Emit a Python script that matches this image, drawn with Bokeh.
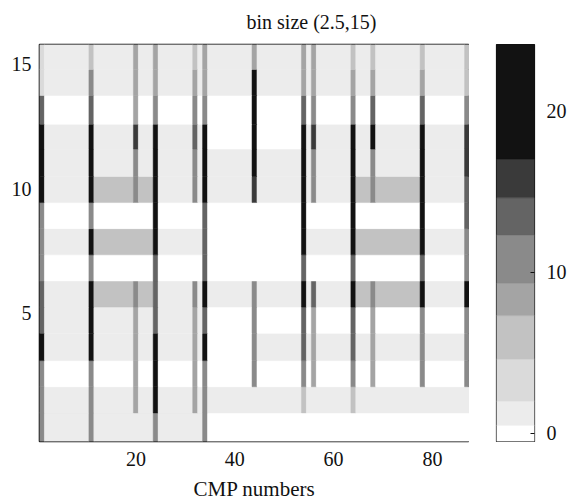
from bokeh.plotting import figure
from bokeh.layouts import row
from bokeh.models import LinearColorMapper, FixedTicker, Range1d, ColumnDataSource
from bokeh.transform import transform
from bokeh.embed import file_html
from bokeh.resources import INLINE

# ---------------- data ----------------
cmp_numbers = list(range(1, 88))
# row (bin) edges on the vertical axis, bottom -> top
row_edges = [-0.15, 1.0, 2.05, 3.1, 4.2, 5.25, 6.3, 7.35, 8.4, 9.45, 10.5, 11.6, 12.6, 13.75, 14.8, 15.8]

# background values per region, rows bottom -> top
bg_AC = [1.2, 1.2, 0, 1.2, 1.2, 1.2, 0, 1.2, 0, 1.2, 1.2, 1.2, 0, 1.2, 1.2]
bg_B  = [1.2, 1.2, 0, 1.2, 1.2, 5.8, 0, 5.8, 0, 5.8, 1.2, 1.2, 0, 1.2, 1.2]
bg_D1 = [0, 1.2, 0, 0, 0, 1.2, 0, 0, 0, 1.2, 1.2, 0, 0, 1.2, 1.2]
bg_D2 = [0, 1.2, 0, 1.2, 0, 1.2, 0, 0, 0, 1.2, 1.2, 0, 0, 1.2, 1.2]
bg_EG = [0, 1.2, 0, 1.2, 0, 1.2, 0, 1.2, 0, 1.2, 1.2, 1.2, 0, 1.2, 1.2]
bg_F  = [0, 1.2, 0, 1.2, 0, 5.8, 0, 5.8, 0, 5.8, 1.2, 1.2, 0, 1.2, 1.2]

region_start = [1, 11, 25, 35, 45, 55, 64, 78]
region_end   = [10, 24, 34, 44, 54, 63, 77, 87]
region_bg    = [bg_AC, bg_B, bg_AC, bg_D1, bg_D2, bg_EG, bg_F, bg_EG]

# strong single-CMP traces, rows bottom -> top (None = background)
line_cmp = [1, 11, 20, 24, 32, 34, 44, 54, 56, 64, 68, 78, 87]
line_profiles = [
    [12, 12, 12, 20, 13, 13, 12, 12, 12, 20, 20, 20, 13, 3, 3],
    [10, 10, 10, 20, 20, 20, 12, 20, 12, 20, 20, 20, 13, 12, 7],
    [None, 9, 9, 9, 9, 11, None, None, None, 11, 11, 16, 9, 9, 9],
    [12, 18, 18, 20, 14, 14, 13, 20, 20, 20, 20, 20, 12, 8, 8],
    [None, 8, 8, 8, 8, 11, None, None, None, 10, 10, 14, 10, 8, 7],
    [10, 10, 10, 20, 13, 20, 13, 13, 13, 20, 20, 20, 12, 9, 8],
    [None, None, 11, 11, 11, 11, None, None, None, 16, 22, 22, 22, 18, 9],
    [None, 7, 10, 13, 13, 20, 13, 20, 20, 20, 20, 20, 13, 9, 8],
    [None, None, 9, 9, 9, 13, None, None, None, 10, 10, 16, 11, 9, 8],
    [None, 6, 11, 13, 13, 20, 13, 20, 20, 20, 20, 20, 10, 8, 7],
    [None, None, 9, 9, 9, 11, None, None, None, 11, 11, 18, 13, 8, 7],
    [None, None, 12, 12, 12, 20, 13, 20, 20, 20, 20, 20, 14, 9, 5],
    [None, None, 11, 11, 11, 17, 11, 12, 13, 13, 16, 16, 10, 6, 5],
]

title_text = "bin size (2.5,15)"
colorbar_ticks = [0, 10, 20]
x_ticks = [20, 40, 60, 80]
y_ticks = [5, 10, 15]

# colour levels (stepped grey scale)
level_edges = [-0.5, 0.5, 2.0, 4.6, 7.3, 9.3, 12.3, 14.6, 17.0, 24.1]
level_colors = ["#ffffff", "#ececec", "#dadada", "#c2c2c2", "#a4a4a4",
                "#8a8a8a", "#646464", "#3a3a3a", "#121212"]

# ---------------- build grid ----------------
nrows = len(row_edges) - 1
grid = {}
for s, e, bg in zip(region_start, region_end, region_bg):
    for c in cmp_numbers:
        if s <= c <= e:
            for r in range(nrows):
                grid[(r, c)] = bg[r]
for c, prof in zip(line_cmp, line_profiles):
    for r in range(nrows):
        if prof[r] is not None:
            grid[(r, c)] = prof[r]

left, right, bottom, top, val = [], [], [], [], []
for r in range(nrows):
    run_start = cmp_numbers[0]
    cur = grid[(r, run_start)]
    for c in cmp_numbers[1:] + [None]:
        v = grid[(r, c)] if c is not None else None
        if v != cur:
            prev = c - 1 if c is not None else cmp_numbers[-1]
            left.append(run_start - 0.5)
            right.append(prev + 0.5)
            bottom.append(row_edges[r])
            top.append(row_edges[r + 1])
            val.append(cur)
            run_start = c
            cur = v

src = ColumnDataSource(dict(left=left, right=right, bottom=bottom, top=top, val=val))

n = 246
lo, hi = level_edges[0], level_edges[-1]
palette = []
for i in range(n):
    v = lo + (i + 0.5) * (hi - lo) / n
    k = max(j for j in range(len(level_colors)) if v >= level_edges[j])
    palette.append(level_colors[k])
mapper = LinearColorMapper(palette=palette, low=lo, high=hi)

# ---------------- main figure ----------------
FONT = "Liberation Serif"
p = figure(frame_width=430, frame_height=397,
           x_range=Range1d(0.5, 87.5), y_range=Range1d(-0.15, 15.8),
           output_backend="svg", toolbar_location=None,
           min_border_left=39, min_border_right=0, min_border_top=44, min_border_bottom=10)

p.quad(left="left", right="right", bottom="bottom", top="top", source=src,
       fill_color=transform("val", mapper), line_color=transform("val", mapper), line_width=0.5)

p.title.text = title_text
p.title.align = "left"
p.title.offset = 207
p.title.vertical_align = "top"
p.title.standoff = 20
p.title.text_font = FONT
p.title.text_font_size = "20px"
p.title.text_font_style = "normal"
p.title.text_color = "#111111"

p.xgrid.visible = False
p.ygrid.visible = False
p.outline_line_color = "#111111"
p.outline_line_width = 1.6

for ax in (p.xaxis[0], p.yaxis[0]):
    ax.axis_line_color = None
    ax.major_tick_out = 0
    ax.major_tick_in = 0
    ax.minor_tick_line_color = None
    ax.major_label_text_font = FONT
    ax.major_label_text_font_size = "20px"
    ax.major_label_text_color = "#111111"
    ax.major_label_standoff = 8
p.xaxis.major_label_standoff = 10
p.xaxis.ticker = FixedTicker(ticks=x_ticks)
p.yaxis.ticker = FixedTicker(ticks=y_ticks)
p.xaxis.axis_label = "CMP numbers"
p.xaxis.axis_label_text_font = FONT
p.xaxis.axis_label_text_font_size = "21px"
p.xaxis.axis_label_text_font_style = "normal"
p.xaxis.axis_label_text_color = "#111111"
p.xaxis.axis_label_standoff = 8

# ---------------- colour bar (own small figure) ----------------
cb_src = ColumnDataSource(dict(bottom=level_edges[:-1], top=level_edges[1:], color=level_colors))
p2 = figure(frame_width=38, frame_height=397,
            x_range=Range1d(0, 1), y_range=Range1d(lo, hi),
            y_axis_location="right",
            output_backend="svg", toolbar_location=None,
            min_border_left=27, min_border_right=0, min_border_top=44, min_border_bottom=30)
p2.quad(left=0, right=1, bottom="bottom", top="top", fill_color="color",
        line_color="color", line_width=0.5, source=cb_src)
p2.xaxis.visible = False
p2.xgrid.visible = False
p2.ygrid.visible = False
p2.outline_line_color = "#111111"
p2.outline_line_width = 1.2
ya = p2.yaxis[0]
ya.ticker = FixedTicker(ticks=colorbar_ticks)
ya.axis_line_color = None
ya.major_tick_in = 4
ya.major_tick_out = 0
ya.major_tick_line_color = "#111111"
ya.minor_tick_line_color = None
ya.major_label_standoff = 12
ya.major_label_text_font = FONT
ya.major_label_text_font_size = "20px"
ya.major_label_text_color = "#111111"

layout = row(p, p2, spacing=0)
open("out.html", "w").write(file_html(layout, INLINE))
